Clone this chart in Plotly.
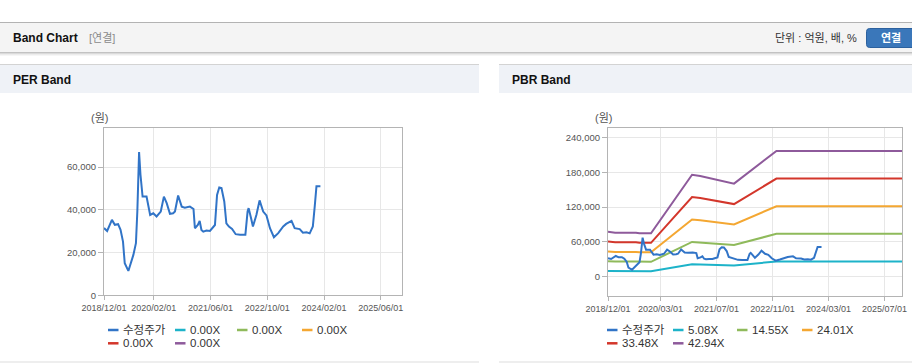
import plotly.graph_objects as go

W, H = 912, 364

# ---------------- data ----------------
price_dates = [
    "2018-12-01", "2018-12-28", "2019-02-07", "2019-03-04", "2019-04-01", "2019-04-22",
    "2019-05-13", "2019-05-28", "2019-06-28", "2019-08-10", "2019-09-01", "2019-09-13",
    "2019-09-28", "2019-10-10", "2019-10-28", "2019-12-01", "2020-01-01", "2020-01-28",
    "2020-02-25", "2020-04-01", "2020-04-28", "2020-05-22", "2020-06-19", "2020-07-16",
    "2020-08-01", "2020-08-28", "2020-09-28", "2020-10-25", "2020-12-07", "2021-01-07",
    "2021-01-19", "2021-02-13", "2021-03-01", "2021-03-16", "2021-04-01", "2021-04-28",
    "2021-05-28", "2021-06-16", "2021-07-10", "2021-07-28", "2021-08-16", "2021-09-04",
    "2021-09-28", "2021-10-16", "2021-11-07", "2021-12-04", "2022-01-04", "2022-02-10",
    "2022-03-28", "2022-04-16", "2022-04-25", "2022-05-16", "2022-06-01", "2022-07-01",
    "2022-07-28", "2022-08-28", "2022-09-25", "2022-10-25", "2022-11-28", "2023-01-04",
    "2023-02-16", "2023-03-13", "2023-04-28", "2023-05-25", "2023-07-07", "2023-08-04",
    "2023-09-04", "2023-10-01", "2023-10-28", "2023-11-13", "2023-11-28", "2024-01-01",
]
price_values = [
    31500, 30100, 35300, 33000, 33300, 30600,
    25100, 15000, 11400, 18900, 24400, 39200,
    67000, 56400, 46200, 46200, 37600, 38400,
    36900, 39200, 46200, 43100, 38100, 38400,
    39200, 46700, 41500, 41000, 41500, 40400,
    31400, 32900, 34800, 30600, 29800, 30300,
    30100, 31400, 32900, 47000, 50500, 50200,
    43900, 33700, 32200, 31100, 28600, 28300,
    28300, 39200, 40800, 36100, 32200, 37700,
    44400, 39200, 37400, 31400, 27200, 29100,
    32200, 33400, 34800, 31400, 31000, 29300,
    29500, 29000, 32200, 41500, 51000, 51000,
]

bps_dates = [
    "2018-12-01", "2019-02-01", "2019-08-01", "2019-09-01", "2019-12-10",
    "2020-12-01", "2021-02-10", "2021-07-01", "2021-12-01", "2022-12-05", "2025-12-01",
]
bps_values = [
    1800, 1760, 1760, 1735, 1735,
    4100, 4050, 3890, 3740, 5060, 5060,
]

per_multiples = [0.00, 0.00, 0.00, 0.00, 0.00]
pbr_multiples = [5.08, 14.55, 24.01, 33.48, 42.94]
band_colors = ["#1db3c9", "#8fba5b", "#f4a732", "#d3362b", "#8e5a9b"]
price_name = "수정주가"
price_color = "#3174c7"

left_x_ticks = ["2018-12-01", "2020-02-01", "2021-06-01", "2022-10-01", "2024-02-01", "2025-06-01"]
right_x_ticks = ["2018-12-01", "2020-03-01", "2021-07-01", "2022-11-01", "2024-03-01", "2025-07-01"]
left_y_ticks = [0, 20000, 40000, 60000]
right_y_ticks = [0, 60000, 120000, 180000, 240000]
x_range = ["2018-12-01", "2025-12-01"]

# ---------------- helpers ----------------
FONT = "Liberation Sans, Noto Sans CJK KR, sans-serif"


def fx(x):
    return x / W


def fy(y):
    return 1 - y / H


fig = go.Figure()

# PBR bands (multiple x BPS)
for m, c in zip(pbr_multiples, band_colors):
    fig.add_trace(go.Scatter(
        x=bps_dates, y=[m * b for b in bps_values], mode="lines",
        line=dict(color=c, width=2), name=f"{m:.2f}X",
        xaxis="x2", yaxis="y2", showlegend=False, hoverinfo="skip"))

# price on both charts
fig.add_trace(go.Scatter(x=price_dates, y=price_values, mode="lines",
                         line=dict(color=price_color, width=2), name=price_name,
                         xaxis="x", yaxis="y", showlegend=False))
fig.add_trace(go.Scatter(x=price_dates, y=price_values, mode="lines",
                         line=dict(color=price_color, width=2), name=price_name,
                         xaxis="x2", yaxis="y2", showlegend=False))

axis_common = dict(showline=True, mirror=True, linecolor="#b4b4b4", linewidth=1,
                   showgrid=True, gridcolor="#e7e7e7", gridwidth=1, zeroline=False,
                   ticks="outside", tickcolor="#b4b4b4", tickangle=0)
xfont = dict(family=FONT, size=9, color="#555555")
yfont = dict(family=FONT, size=9.5, color="#555555")

shapes = []


def hline(y, x0, x1, color, width=1):
    shapes.append(dict(type="line", xref="paper", yref="paper", x0=fx(x0), x1=fx(x1),
                       y0=fy(y), y1=fy(y), line=dict(color=color, width=width), layer="below"))


def rect(x0, y0, x1, y1, fill):
    shapes.append(dict(type="rect", xref="paper", yref="paper", x0=fx(x0), x1=fx(x1),
                       y0=fy(y1), y1=fy(y0), fillcolor=fill, line=dict(width=0), layer="below"))


# header bar
hline(22.5, 0, 912, "#b3b3b3")
rect(0, 23, 912, 52, "#f4f4f4")
hline(52.5, 0, 912, "#c2c2c2")
hline(53.5, 0, 912, "#dadada")
hline(54.5, 0, 912, "#ececec")
hline(55.5, 0, 912, "#f6f6f6")

# panel headers
for (a, b) in [(0, 479), (499, 912)]:
    rect(a, 64, b, 93, "#eff2f7")
    hline(64.5, a, b, "#d3d3d3")
    hline(362, a, b, "#dddddd")

# button (rounded)
bx0, bx1, by0, by1, r = 866.5, 918, 28.5, 47.5, 3
path = (f"M {fx(bx0 + r)},{fy(by0)} L {fx(bx1)},{fy(by0)} L {fx(bx1)},{fy(by1)} "
        f"L {fx(bx0 + r)},{fy(by1)} Q {fx(bx0)},{fy(by1)} {fx(bx0)},{fy(by1 - r)} "
        f"L {fx(bx0)},{fy(by0 + r)} Q {fx(bx0)},{fy(by0)} {fx(bx0 + r)},{fy(by0)} Z")
shapes.append(dict(type="path", xref="paper", yref="paper", path=path,
                   fillcolor="#3a77ba", line=dict(color="#2c619e", width=1), layer="above"))

annotations = []


def text(x, y, s, size=11, color="#333333", bold=False, anchor="left"):
    annotations.append(dict(xref="paper", yref="paper", x=fx(x), y=fy(y), text=f"<b>{s}</b>" if bold else s,
                            showarrow=False, xanchor=anchor, yanchor="middle",
                            font=dict(family=FONT, size=size, color=color)))


text(11, 38, "Band Chart", size=12, color="#111111", bold=True)
text(87, 38, "[연결]", size=11, color="#8a8a8a")
text(859, 38.5, "단위 : 억원, 배, %", size=11, color="#333333", anchor="right")
text(891, 38, "연결", size=11, color="#ffffff", bold=True, anchor="center")
text(11, 79.5, "PER Band", size=12, color="#111111", bold=True)
text(510, 79.5, "PBR Band", size=12, color="#111111", bold=True)
text(99, 118, "(원)", size=11, color="#555555", anchor="center")
text(603, 118, "(원)", size=11, color="#555555", anchor="center")

# legends
left_labels = [price_name] + [f"{m:.2f}X" for m in per_multiples]
right_labels = [price_name] + [f"{m:.2f}X" for m in pbr_multiples]
colors = [price_color] + band_colors
left_cols = [108, 175, 237, 302]
right_cols = [607, 673, 737, 802]
for labels, cols in [(left_labels, left_cols), (right_labels, right_cols)]:
    for i, (lab, col) in enumerate(zip(labels, colors)):
        row_y = 330 if i < 4 else 343.3
        cx = cols[i % 4]
        shapes.append(dict(type="line", xref="paper", yref="paper", x0=fx(cx), x1=fx(cx + 10.5),
                           y0=fy(row_y), y1=fy(row_y), line=dict(color=col, width=2.5)))
        text(cx + 12.5, row_y, lab, size=11.5, color="#333333")

fig.update_layout(
    width=W, height=H, autosize=False,
    margin=dict(l=0, r=0, t=0, b=0, pad=0, autoexpand=False),
    paper_bgcolor="#ffffff", plot_bgcolor="#ffffff",
    showlegend=False,
    xaxis=dict(domain=[fx(104), fx(402)], anchor="y", type="date", range=x_range,
               tickvals=left_x_ticks, ticktext=[d.replace("-", "/") for d in left_x_ticks],
               ticklen=4, tickfont=xfont, **axis_common),
    yaxis=dict(domain=[fy(295.3), fy(128)], anchor="x", range=[0, 78300],
               tickvals=left_y_ticks, tickformat=",d", ticklen=5, tickfont=yfont, **axis_common),
    xaxis2=dict(domain=[fx(608), fx(902)], anchor="y2", type="date", range=x_range,
                tickvals=right_x_ticks, ticktext=[d.replace("-", "/") for d in right_x_ticks],
                ticklen=4, tickfont=xfont, **axis_common),
    yaxis2=dict(domain=[fy(296), fy(128)], anchor="x2", range=[-34000, 257000],
                tickvals=right_y_ticks, tickformat=",d", ticklen=5, tickfont=yfont, **axis_common),
    shapes=shapes, annotations=annotations,
)

fig.write_html("out.html", post_script="document.body.style.margin='0';",
               config={"displayModeBar": False})
